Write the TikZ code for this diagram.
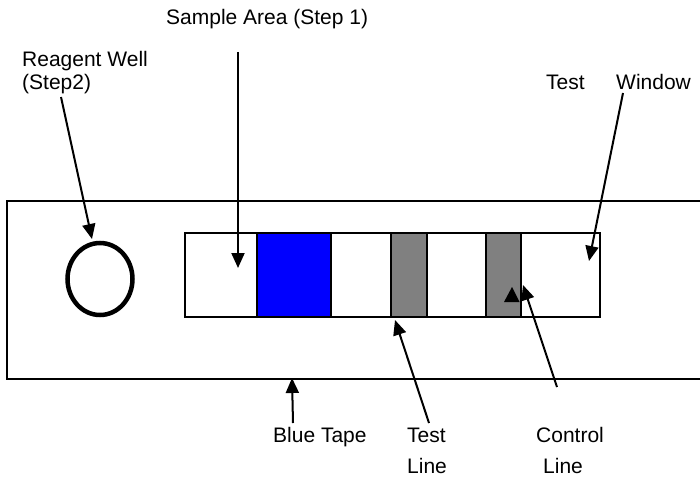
\documentclass[tikz,border=0pt]{standalone}
\usepackage{fontspec}
\setmainfont{Liberation Sans}
\usetikzlibrary{arrows.meta,shapes.geometric}
\begin{document}
\begin{tikzpicture}[x=1pt,y=-1pt,
  lbl/.style={inner sep=0pt,anchor=base west,font=\fontsize{21}{22}\selectfont},
  arr/.style={line width=2pt,-{Triangle[length=15pt,width=13pt]}},
  seg/.style={draw,line width=2.7pt},
  tape/.style={draw,line width=1.8pt}]
\clip (0,0) rectangle (700,476);
\fill[white] (0,0) rectangle (700,476);
% tape
\draw[tape] (7,201) rectangle (720,379);
% reagent well
\node[draw,line width=4.5pt,ellipse,minimum width=65pt,minimum height=72pt,inner sep=0pt] (well) at (100,279) {};
% strip
\fill[blue] (257,233) rectangle (331,317);
\fill[gray] (391,233) rectangle (427,317);
\fill[gray] (486,233) rectangle (521,317);
\draw[seg] (185,233) rectangle (600,317);
\foreach \xx in {257,331,391,427,486,521}{\draw[seg] (\xx,233) -- (\xx,317);}
\fill (512,287) -- (519.5,302) -- (504,302) -- cycle;
% labels
\node[lbl] (sample) at (166,25) {Sample Area (Step 1)};
\node[lbl] (reagent) at (22,67) {Reagent Well};
\node[lbl] (step2) at (22,89) {(Step2)};
\node[lbl] (testw) at (546,89) {Test};
\node[lbl] (window) at (616,89) {Window};
\node[lbl] (bluetape) at (273,442) {Blue Tape};
\node[lbl] (testl) at (407,442) {Test};
\node[lbl] (testl2) at (407,473) {Line};
\node[lbl] (control) at (536,442) {Control};
\node[lbl] (control2) at (543,473) {Line};
% arrow ends
\coordinate (a1s) at (61,97);  \coordinate (a1e) at (92,239);
\coordinate (a2s) at (238,52); \coordinate (a2e) at (238,268);
\coordinate (a3s) at (623,93); \coordinate (a3e) at (589,261);
\coordinate (a4s) at (429,423); \coordinate (a4e) at (395,320);
\coordinate (a5s) at (557,387); \coordinate (a5e) at (523,285);
\coordinate (a6s) at (293,423); \coordinate (a6e) at (292,378);
\draw[arr] (a1s) -- (a1e);
\draw[arr] (a2s) -- (a2e);
\draw[arr] (a3s) -- (a3e);
\draw[arr] (a4s) -- (a4e);
\draw[arr] (a5s) -- (a5e);
\draw[arr] (a6s) -- (a6e);
\end{tikzpicture}
\end{document}
